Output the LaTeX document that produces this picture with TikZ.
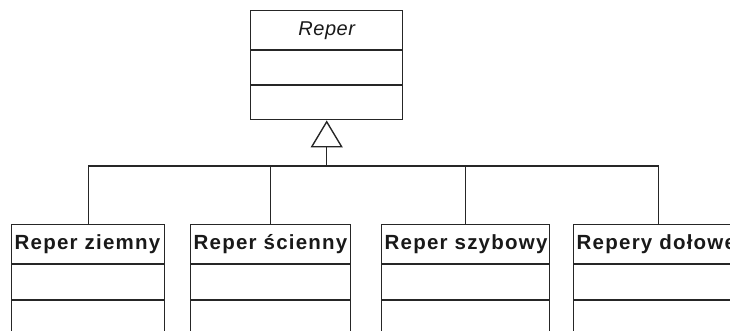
\documentclass[tikz,border=0pt]{standalone}
\usepackage{fontspec}
\setmainfont{Liberation Sans}
\newfontfamily\boldbox{Liberation Sans Bold}[LetterSpace=6]
\newfontfamily\italbox{Liberation Sans Italic}[LetterSpace=3]
\usetikzlibrary{arrows.meta,calc}
\begin{document}
\begin{tikzpicture}[x=1pt,y=-1pt,line width=1.4pt]
\tikzset{
  clsbox/.style={draw=black!85,rectangle,inner sep=0pt,anchor=north west,minimum height=112pt},
  clsname/.style={anchor=west,inner sep=0pt,font=\boldbox\fontsize{20.5}{21}\selectfont,text=black!90},
  topname/.style={inner sep=0pt,font=\italbox\fontsize{20}{21}\selectfont,text=black!90},
  sep/.style={draw=black!85},
  conn/.style={draw=black!85}
}
\useasboundingbox (0,0) rectangle (730,330);
\clip (0,0) rectangle (730,330);
% top class
\node[clsbox,minimum width=152pt,minimum height=109pt] (top) at (250,10) {};
\node[topname] (topn) at ($(top.north)+(0,20.5)$) {Reper};
\draw[sep] ($(top.north west)+(0,40)$) -- ($(top.north east)+(0,40)$);
\draw[sep] ($(top.north west)+(0,75)$) -- ($(top.north east)+(0,75)$);
% bottom classes
\node[clsbox,minimum width=153pt] (b1) at (11,224) {};
\node[clsbox,minimum width=160pt] (b2) at (190,224) {};
\node[clsbox,minimum width=168pt] (b3) at (381,224) {};
\node[clsbox,minimum width=170pt] (b4) at (573,224) {};
\foreach \b/\t in {b1/Reper ziemny,b2/Reper ścienny,b3/Reper szybowy,b4/Repery dołowe}{
  \node[clsname] (\b n) at ($(\b.north west)+(3,20.5)$) {\t};
  \draw[sep] ($(\b.north west)+(0,40)$) -- ($(\b.north east)+(0,40)$);
  \draw[sep] ($(\b.north west)+(0,76)$) -- ($(\b.north east)+(0,76)$);
}
% generalization
\coordinate (j) at (top.south |- 0,166);
\draw[conn,-{Triangle[open,length=27pt,width=32pt,line width=1.4pt]}] (j) -- (top.south);
\draw[conn] (b1.north) |- (j) -| (b4.north);
\draw[conn] (b2.north) -- (b2.north |- j);
\draw[conn] (b3.north) -- (b3.north |- j);
\end{tikzpicture}
\end{document}
